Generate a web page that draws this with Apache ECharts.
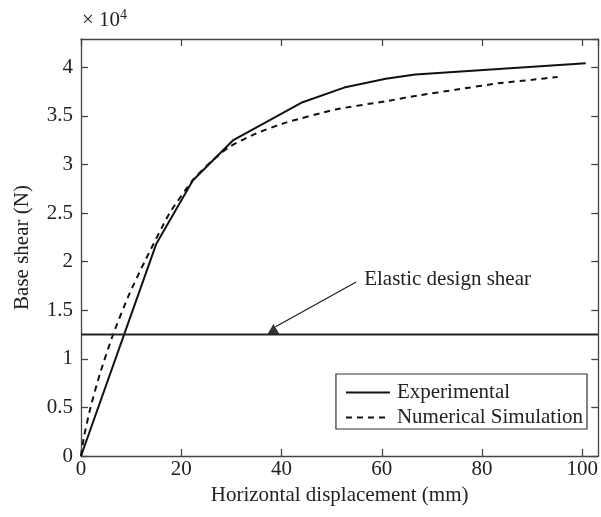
<!DOCTYPE html>
<html>
<head>
<meta charset="utf-8">
<script src="https://cdn.jsdelivr.net/npm/echarts@6/dist/echarts.min.js"></script>
<style>
  html, body { margin: 0; padding: 0; background: #fff; }
  #main { width: 601px; height: 517px; }
</style>
</head>
<body>
<div id="main"></div>
<script>
// values in units of 10^4 N
const experimental = [[0, 0], [15, 2.18], [22.3, 2.835], [30.3, 3.246], [44.2, 3.64], [52.5, 3.79], [60.8, 3.88], [66.7, 3.925], [100.7, 4.04]];
const numerical = [[0, 0], [0.6, 0.2], [1.9, 0.5], [3.8, 0.85], [6.4, 1.25], [9.5, 1.65], [12.7, 2.0], [17.7, 2.5], [22.5, 2.85], [26, 3.03], [29.6, 3.18], [35, 3.32], [40.9, 3.43], [50.8, 3.565], [60.8, 3.65], [67.4, 3.71], [75, 3.77], [83.3, 3.835], [90, 3.87], [95.1, 3.9]];
const elasticShear = 1.25;
const elasticMarkX = 38.4;
const arrowStart = [54.9, 1.79];
const xMax = 103.2;
const yMax = 4.29;

const font = 'Liberation Serif';
const fontSize = 21;
const axisColor = '#444';
const lineColor = '#111';

const myChart = echarts.init(document.getElementById('main'));

const baseAxis = {
  axisLine: { show: true, onZero: false, lineStyle: { color: axisColor, width: 1.3 } },
  axisTick: { show: true, inside: true, length: 7, lineStyle: { color: axisColor, width: 1.3 } },
  splitLine: { show: false }
};

const option = {
  animation: false,
  backgroundColor: '#fff',
  grid: { left: 81, top: 39, right: 1, bottom: 61 },
  legend: {
    orient: 'vertical',
    right: 14,
    top: 374,
    padding: [8, 4, 1, 9],
    itemGap: 4,
    itemWidth: 44,
    itemHeight: 10,
    borderColor: '#333',
    borderWidth: 1.2,
    backgroundColor: '#fff',
    itemStyle: { opacity: 0 },
    textStyle: { fontFamily: font, fontSize: fontSize, color: '#222', padding: [0, 0, 0, 2] },
    data: ['Experimental', 'Numerical Simulation']
  },
  xAxis: [
    Object.assign({}, baseAxis, {
      type: 'value', min: 0, max: xMax, interval: 20,
      name: 'Horizontal displacement (mm)', nameLocation: 'middle', nameGap: 20,
      nameTextStyle: { fontFamily: font, fontSize: fontSize, color: '#222' },
      axisLabel: { fontFamily: font, fontSize: fontSize, color: '#222', margin: 3, showMaxLabel: false }
    }),
    Object.assign({}, baseAxis, {
      type: 'value', min: 0, max: xMax, interval: 20, position: 'top',
      axisLabel: { show: false }
    })
  ],
  yAxis: [
    Object.assign({}, baseAxis, {
      type: 'value', min: 0, max: yMax, interval: 0.5,
      name: 'Base shear (N)', nameLocation: 'middle', nameGap: 48, nameRotate: 90,
      nameTextStyle: { fontFamily: font, fontSize: fontSize, color: '#222' },
      axisLabel: { fontFamily: font, fontSize: fontSize, color: '#222', margin: 8, showMaxLabel: false }
    }),
    Object.assign({}, baseAxis, {
      type: 'value', min: 0, max: yMax, interval: 0.5, position: 'right',
      axisLabel: { show: false }
    })
  ],
  series: [
    {
      name: 'Experimental',
      type: 'line',
      data: experimental,
      symbol: 'none',
      lineStyle: { color: lineColor, width: 2 },
      itemStyle: { color: lineColor }
    },
    {
      name: 'Numerical Simulation',
      type: 'line',
      data: numerical,
      symbol: 'none',
      smooth: 0.2,
      lineStyle: { color: lineColor, width: 2, type: [6, 5] },
      itemStyle: { color: lineColor }
    },
    {
      name: 'Elastic',
      type: 'line',
      data: [[0, elasticShear], [xMax, elasticShear]],
      symbol: 'none',
      lineStyle: { color: '#222', width: 2 },
      markLine: {
        silent: true,
        symbol: ['none', 'none'],
        label: { show: false },
        lineStyle: { color: '#222', width: 1.3, type: 'solid' },
        data: [[{ coord: arrowStart }, { coord: [elasticMarkX + 0.4, elasticShear + 0.08] }]]
      }
    },
    {
      name: 'ElasticMark',
      type: 'scatter',
      data: [[elasticMarkX, elasticShear]],
      symbol: 'triangle',
      symbolSize: [13, 11],
      symbolOffset: [0, -5],
      itemStyle: { color: '#000' }
    }
  ]
};
myChart.setOption(option);

const textPos = myChart.convertToPixel({ gridIndex: 0 }, arrowStart);
myChart.setOption({
  graphic: [
    {
      type: 'text', left: 82, top: 8,
      style: {
        text: '× 10{s|4}',
        rich: { s: { fontFamily: font, fontSize: 14, color: '#222', verticalAlign: 'top', padding: [0, 0, 10, 0] } },
        font: '21px "Liberation Serif"', fill: '#222'
      }
    },
    {
      type: 'text', x: textPos[0] + 8, y: textPos[1] - 13,
      style: { text: 'Elastic design shear', font: '21px "Liberation Serif"', fill: '#222' }
    }
  ]
});
window.addEventListener('resize', function () { myChart.resize(); });
</script>
</body>
</html>
